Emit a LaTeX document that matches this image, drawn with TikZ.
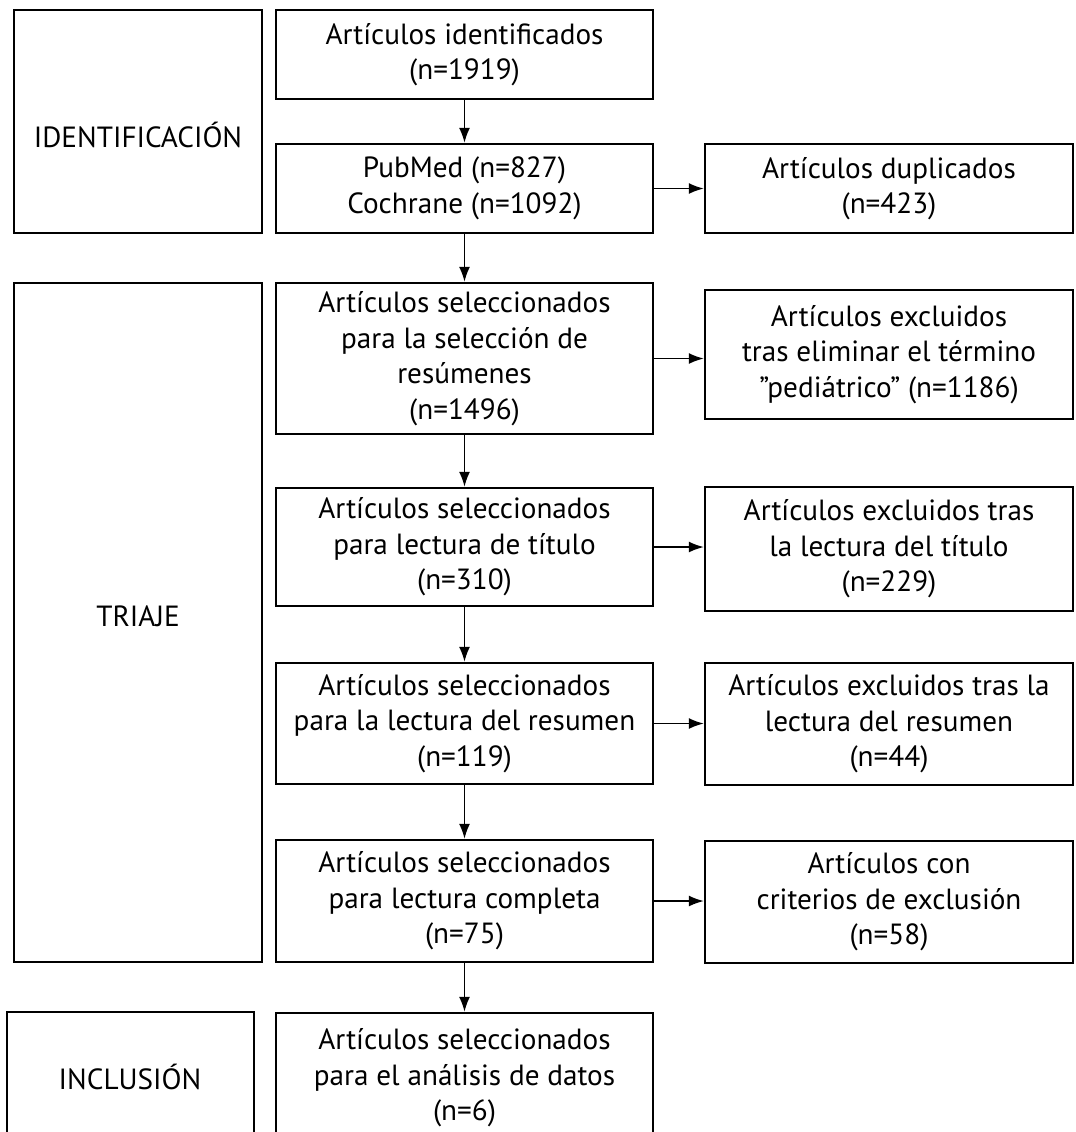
\documentclass[tikz,border=0pt]{standalone}
\usepackage{fontspec}
\setmainfont{PT Sans}
\usetikzlibrary{arrows.meta}
\tikzset{
  flowbox/.style={draw,line width=1.2pt,align=center,inner sep=0pt,
    minimum width=188.5pt,font=\fontsize{14.6}{17.8}\selectfont},
  sidebox/.style={flowbox,minimum width=184pt},
  stagetext/.style={font=\fontsize{14.6}{17.8}\selectfont},
  flowarrow/.style={line width=0.8pt,-{Latex[length=7.5pt,width=5.5pt]}}
}
\begin{document}
\begin{tikzpicture}[x=0.5pt,y=-0.5pt]
\useasboundingbox (0,0) rectangle (1076,1132);
%% stages
\draw[line width=1.2pt] (14,10) rectangle (262,233);
\node[stagetext] (ident) at (138,135) {IDENTIFICACIÓN};
\draw[line width=1.2pt] (14,283) rectangle (262,962);
\node[stagetext] (triaje) at (138,616) {TRIAJE};
\draw[line width=1.2pt] (7,1012) rectangle (254,1143);
\node[stagetext] (inclusion) at (130,1077) {INCLUSIÓN};
%% main column
\node[flowbox,minimum height=44.5pt] (ident1) at (464.5,54.5) {Artículos identificados\\(n=1919)};
\node[flowbox,minimum height=44.5pt] (bases) at (464.5,188.5) {PubMed (n=827)\\Cochrane (n=1092)};
\node[flowbox,minimum height=75.5pt] (resum) at (464.5,358.5) {Artículos seleccionados\\para la selección de\\resúmenes\\(n=1496)};
\node[flowbox,minimum height=59pt] (titulo) at (464.5,547) {Artículos seleccionados\\para lectura de título\\(n=310)};
\node[flowbox,minimum height=60.5pt] (lectres) at (464.5,723.5) {Artículos seleccionados\\para la lectura del resumen\\(n=119)};
\node[flowbox,minimum height=61pt] (completa) at (464.5,901) {Artículos seleccionados\\para lectura completa\\(n=75)};
\node[flowbox,minimum height=65pt] (analisis) at (464.5,1078) {Artículos seleccionados\\para el análisis de datos\\(n=6)};
%% exclusions
\node[sidebox,minimum height=44.5pt] (dupl) at (889,188.5) {Artículos duplicados\\(n=423)};
\node[sidebox,minimum height=64.5pt] (pedia) at (889,354.5) {Artículos excluidos\\tras eliminar el término\\\char34 pediátrico\char34{} (n=1186)};
\node[sidebox,minimum height=62pt] (extit) at (889,549) {Artículos excluidos tras\\la lectura del título\\(n=229)};
\node[sidebox,minimum height=61pt] (exres) at (889,724) {Artículos excluidos tras la\\lectura del resumen\\(n=44)};
\node[sidebox,minimum height=61pt] (excrit) at (889,902) {Artículos con\\criterios de exclusión\\(n=58)};
%% arrows
\draw[flowarrow] (ident1) -- (bases);
\draw[flowarrow] (bases) -- (resum);
\draw[flowarrow] (resum) -- (titulo);
\draw[flowarrow] (titulo) -- (lectres);
\draw[flowarrow] (lectres) -- (completa);
\draw[flowarrow] (completa) -- (analisis);
\draw[flowarrow] (bases.east) -- (bases.east -| dupl.west);
\draw[flowarrow] (resum.east) -- (resum.east -| pedia.west);
\draw[flowarrow] (titulo.east) -- (titulo.east -| extit.west);
\draw[flowarrow] (lectres.east) -- (lectres.east -| exres.west);
\draw[flowarrow] (completa.east) -- (completa.east -| excrit.west);
\end{tikzpicture}
\end{document}
